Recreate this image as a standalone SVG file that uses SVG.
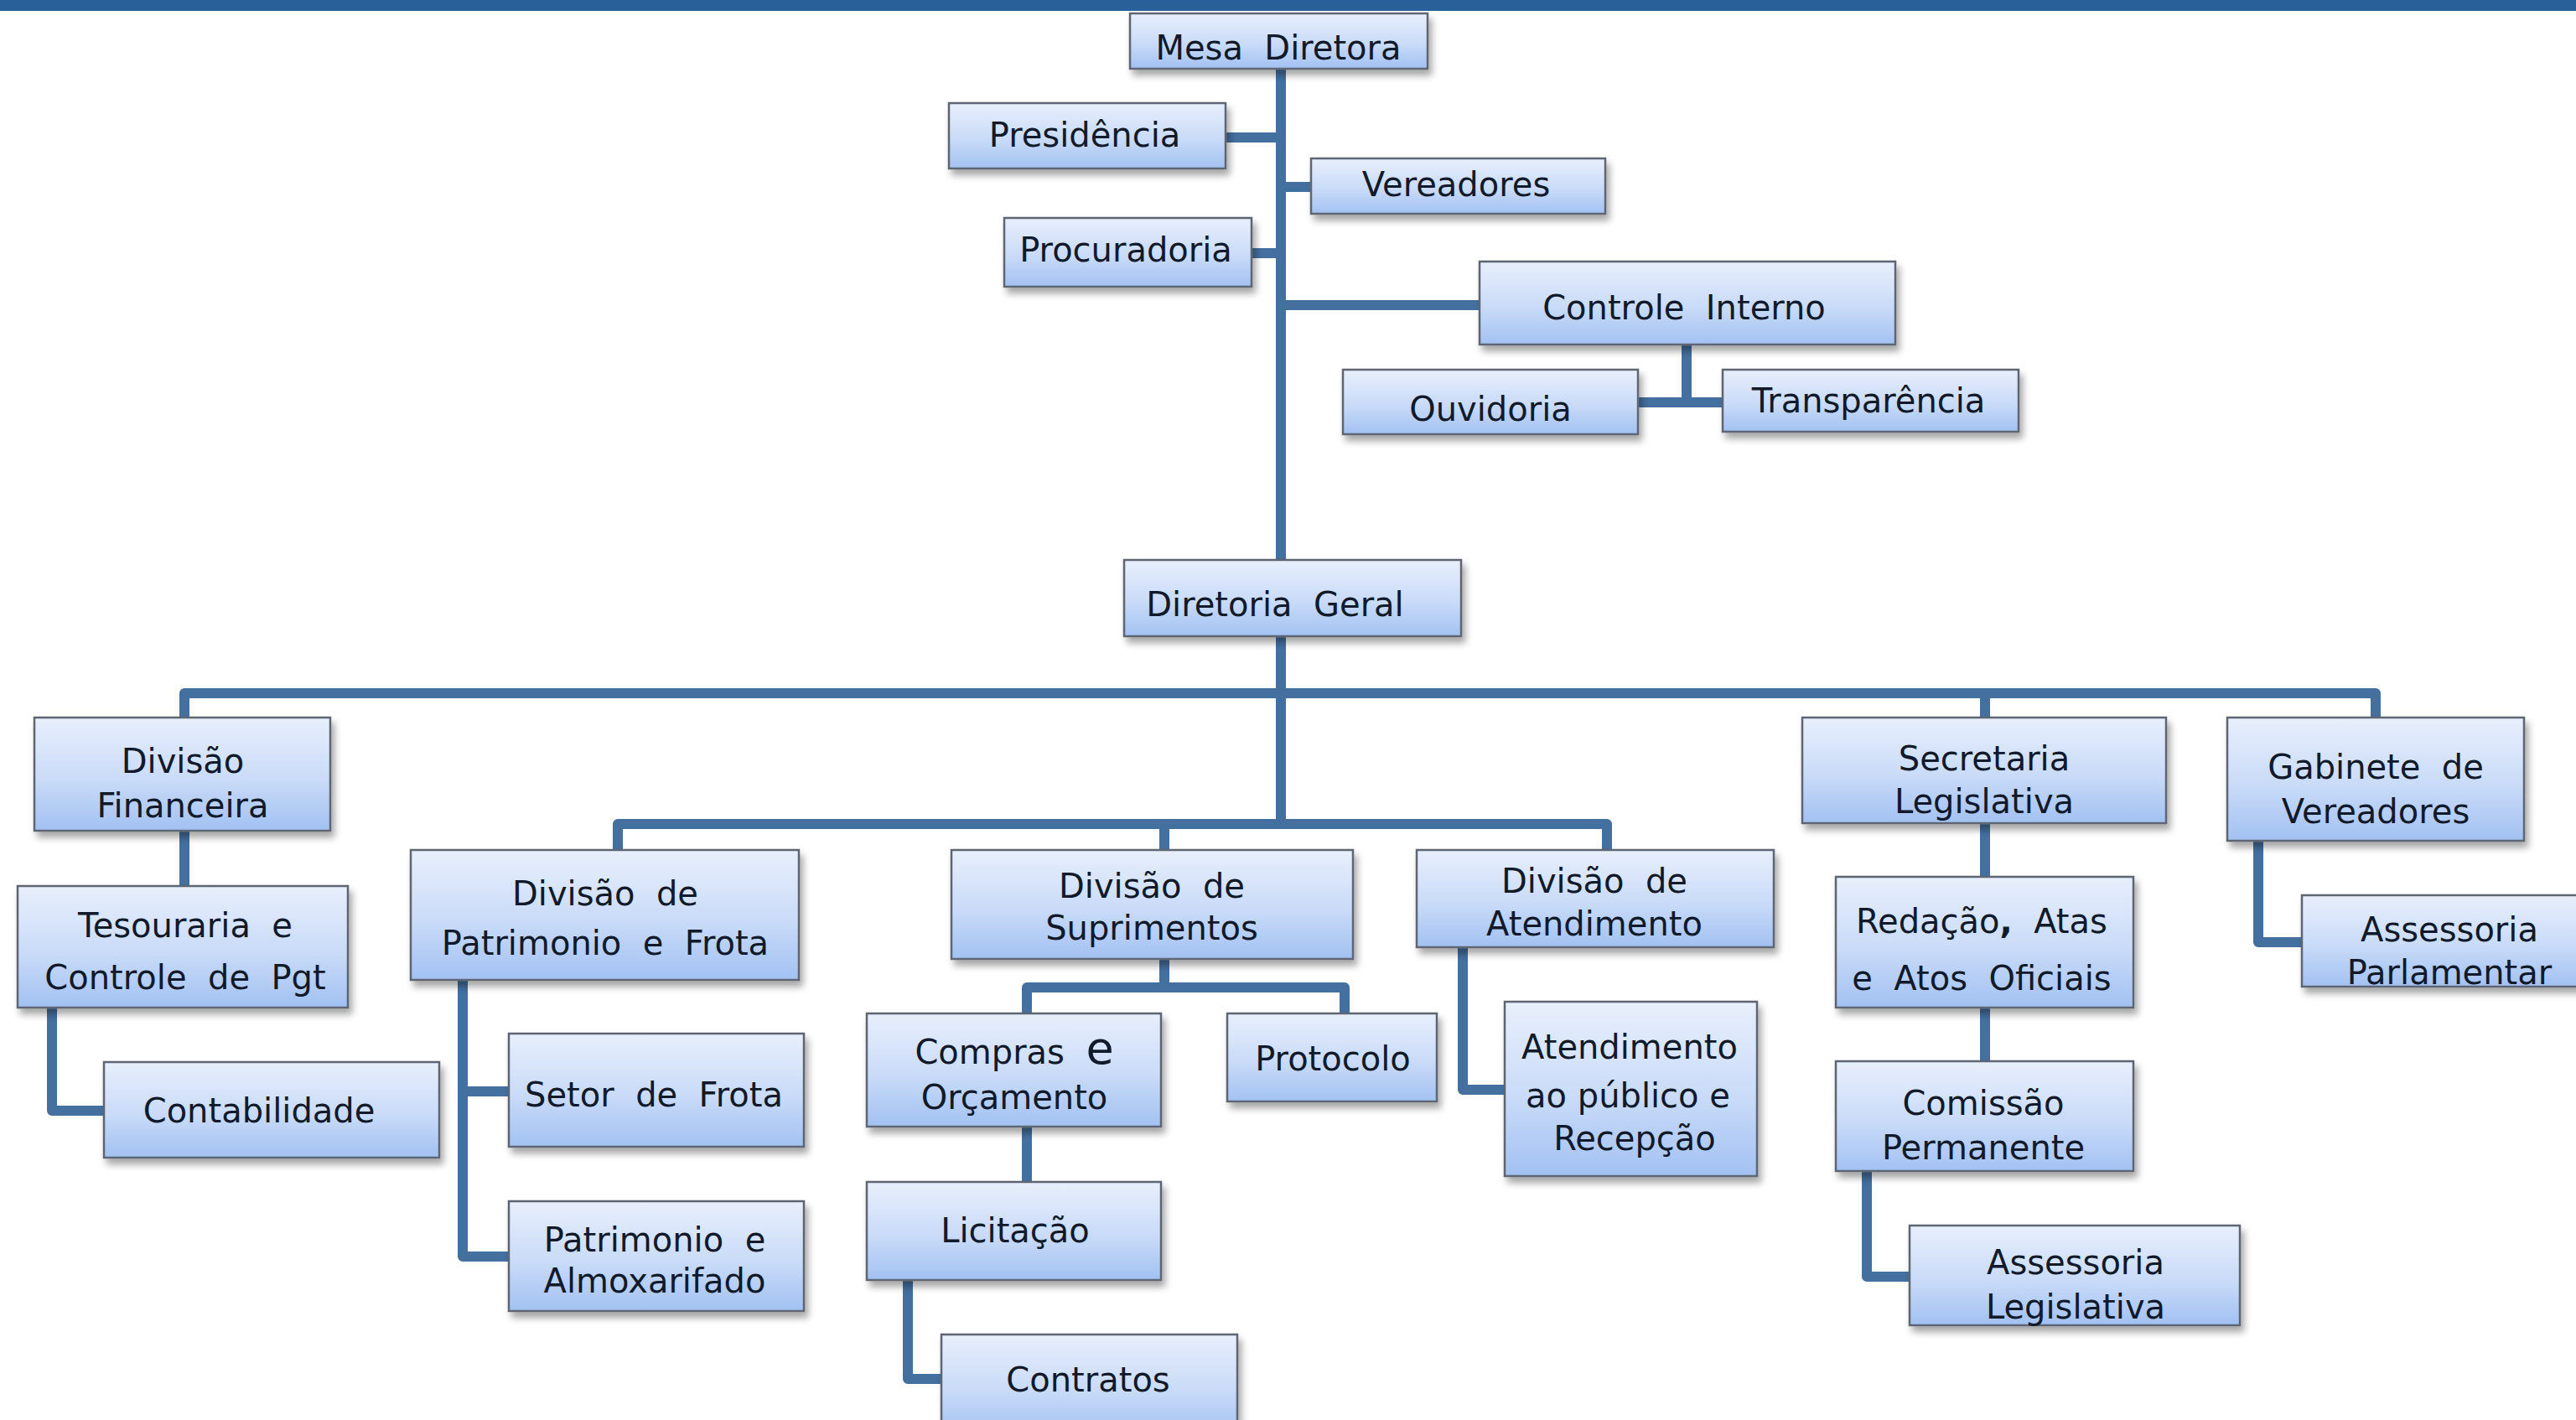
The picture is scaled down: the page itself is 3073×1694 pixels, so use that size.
<svg xmlns="http://www.w3.org/2000/svg" width="3073" height="1694" viewBox="0 0 3073 1694">
<defs>
<linearGradient id="g" x1="0" y1="0" x2="0" y2="1">
<stop offset="0" stop-color="#e8effc"/>
<stop offset="0.55" stop-color="#c9dbf8"/>
<stop offset="1" stop-color="#a2c1f2"/>
</linearGradient>
<filter id="sh" x="-10%" y="-20%" width="125%" height="150%">
<feGaussianBlur in="SourceAlpha" stdDeviation="4"/>
<feOffset dx="4" dy="7" result="b"/>
<feComponentTransfer><feFuncA type="linear" slope="0.35"/></feComponentTransfer>
<feMerge><feMergeNode/><feMergeNode in="SourceGraphic"/></feMerge>
</filter>
<style>
.box{fill:url(#g);stroke:#5d6672;stroke-width:2.5;filter:url(#sh)}
.t{font-family:"DejaVu Sans","Liberation Sans",sans-serif;font-size:40px;fill:#111a2b;text-anchor:middle;white-space:pre}
.c{fill:none;stroke:#44709f;stroke-width:12;stroke-linejoin:round;stroke-linecap:butt}
</style>
</defs>
<rect width="3073" height="1694" fill="#ffffff"/>
<rect x="0" y="0" width="3073" height="13" fill="#2a6099"/>

<g id="connectors">
<path class="c" d="M1528 82 V668"/>
<path class="c" d="M1528 759 V983"/>
<path class="c" d="M1462 164 H1528"/>
<path class="c" d="M1528 223 H1564"/>
<path class="c" d="M1493 302 H1528"/>
<path class="c" d="M1528 364 H1765"/>
<path class="c" d="M2012 411 V480"/>
<path class="c" d="M1954 480 H2055"/>
<path class="c" d="M220 856 V827 H2834 V856"/>
<path class="c" d="M2368 827 V856"/>
<path class="c" d="M737 1014 V983 H1917 V1014"/>
<path class="c" d="M1389 983 V1014"/>
<path class="c" d="M220 991 V1057"/>
<path class="c" d="M62 1202 V1325 H124"/>
<path class="c" d="M552 1169 V1499 H607"/>
<path class="c" d="M552 1302 H607"/>
<path class="c" d="M1389 1144 V1178"/>
<path class="c" d="M1225 1209 V1178 H1604 V1209"/>
<path class="c" d="M1225 1344 V1410"/>
<path class="c" d="M1083 1527 V1645 H1123"/>
<path class="c" d="M1745 1130 V1300 H1795"/>
<path class="c" d="M2368 982 V1046"/>
<path class="c" d="M2368 1202 V1266"/>
<path class="c" d="M2227 1397 V1523 H2278"/>
<path class="c" d="M2694 1003 V1124 H2746"/>
</g>

<g id="n-mesa"><rect class="box" x="1348" y="16" width="355" height="66"/><text class="t" x="1525" y="71">Mesa  Diretora</text></g>
<g id="n-presidencia"><rect class="box" x="1132" y="123" width="330" height="78"/><text class="t" x="1294" y="175">Presidência</text></g>
<g id="n-vereadores"><rect class="box" x="1564" y="189" width="351" height="66"/><text class="t" x="1737" y="234">Vereadores</text></g>
<g id="n-procuradoria"><rect class="box" x="1198" y="260" width="295" height="82"/><text class="t" x="1343" y="312">Procuradoria</text></g>
<g id="n-controle"><rect class="box" x="1765" y="312" width="496" height="99"/><text class="t" x="2009" y="381">Controle  Interno</text></g>
<g id="n-ouvidoria"><rect class="box" x="1602" y="441" width="352" height="77"/><text class="t" x="1778" y="502">Ouvidoria</text></g>
<g id="n-transparencia"><rect class="box" x="2055" y="441" width="353" height="74"/><text class="t" x="2229" y="492">Transparência</text></g>
<g id="n-diretoria"><rect class="box" x="1341" y="668" width="402" height="91"/><text class="t" x="1521" y="735">Diretoria  Geral</text></g>

<g id="n-financeira"><rect class="box" x="41" y="856" width="353" height="135"/><text class="t" x="218" y="922">Divisão</text><text class="t" x="218" y="975">Financeira</text></g>
<g id="n-tesouraria"><rect class="box" x="21" y="1057" width="394" height="145"/><text class="t" x="221" y="1118">Tesouraria  e</text><text class="t" x="221" y="1180">Controle  de  Pgt</text></g>
<g id="n-contabilidade"><rect class="box" x="124" y="1267" width="400" height="114"/><text class="t" x="309" y="1339">Contabilidade</text></g>

<g id="n-patrimonio-frota"><rect class="box" x="490" y="1014" width="463" height="155"/><text class="t" x="722" y="1080">Divisão  de</text><text class="t" x="722" y="1139">Patrimonio  e  Frota</text></g>
<g id="n-setor-frota"><rect class="box" x="607" y="1233" width="352" height="135"/><text class="t" x="780" y="1320">Setor  de  Frota</text></g>
<g id="n-almoxarifado"><rect class="box" x="607" y="1433" width="352" height="131"/><text class="t" x="781" y="1493">Patrimonio  e</text><text class="t" x="781" y="1542">Almoxarifado</text></g>

<g id="n-suprimentos"><rect class="box" x="1135" y="1014" width="479" height="130"/><text class="t" x="1374" y="1071">Divisão  de</text><text class="t" x="1374" y="1121">Suprimentos</text></g>
<g id="n-compras"><rect class="box" x="1034" y="1209" width="351" height="135"/><text class="t" x="1210" y="1269">Compras  <tspan font-size="54">e</tspan></text><text class="t" x="1210" y="1323">Orçamento</text></g>
<g id="n-protocolo"><rect class="box" x="1464" y="1209" width="250" height="105"/><text class="t" x="1590" y="1277">Protocolo</text></g>
<g id="n-licitacao"><rect class="box" x="1034" y="1410" width="351" height="117"/><text class="t" x="1211" y="1482">Licitação</text></g>
<g id="n-contratos"><rect class="box" x="1123" y="1592" width="353" height="120"/><text class="t" x="1298" y="1660">Contratos</text></g>

<g id="n-atendimento"><rect class="box" x="1690" y="1014" width="426" height="116"/><text class="t" x="1902" y="1065">Divisão  de</text><text class="t" x="1902" y="1116">Atendimento</text></g>
<g id="n-atend-publico"><rect class="box" x="1795" y="1195" width="301" height="208"/><text class="t" x="1944" y="1263">Atendimento</text><text class="t" x="1942" y="1321">ao público e</text><text class="t" x="1950" y="1372">Recepção</text></g>

<g id="n-secretaria"><rect class="box" x="2150" y="856" width="434" height="126"/><text class="t" x="2367" y="919">Secretaria</text><text class="t" x="2367" y="970">Legislativa</text></g>
<g id="n-redacao"><rect class="box" x="2190" y="1046" width="355" height="156"/><text class="t" x="2364" y="1113">Redação<tspan font-weight="bold">,</tspan>  Atas</text><text class="t" x="2364" y="1181">e  Atos  Oficiais</text></g>
<g id="n-comissao"><rect class="box" x="2190" y="1266" width="355" height="131"/><text class="t" x="2366" y="1330">Comissão</text><text class="t" x="2366" y="1383">Permanente</text></g>
<g id="n-assessoria-leg"><rect class="box" x="2278" y="1462" width="394" height="119"/><text class="t" x="2476" y="1520">Assessoria</text><text class="t" x="2476" y="1573">Legislativa</text></g>

<g id="n-gabinete"><rect class="box" x="2657" y="856" width="354" height="147"/><text class="t" x="2834" y="929">Gabinete  de</text><text class="t" x="2834" y="982">Vereadores</text></g>
<g id="n-assessoria-parl"><rect class="box" x="2746" y="1068" width="340" height="109"/><text class="t" x="2922" y="1123">Assessoria</text><text class="t" x="2922" y="1174">Parlamentar</text></g>
</svg>
